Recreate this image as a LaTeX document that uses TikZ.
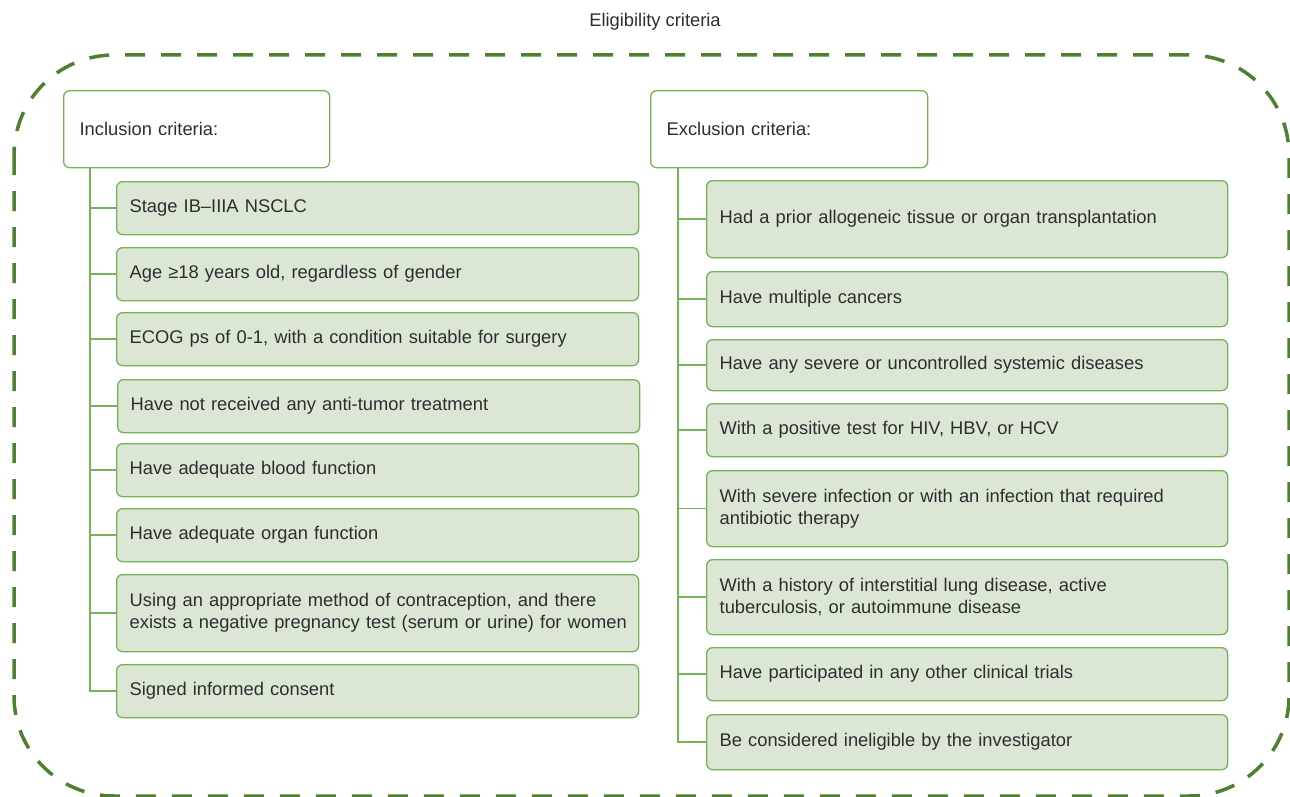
\documentclass[tikz,border=0pt]{standalone}
\usepackage{fontspec}
\setmainfont{Liberation Sans}
\definecolor{dashgreen}{HTML}{4E8030}
\definecolor{edgegreen}{HTML}{74B356}
\definecolor{boxfill}{HTML}{DBE6D5}
\definecolor{txt}{HTML}{2E2E2E}
\begin{document}
\begin{tikzpicture}[x=1bp,y=-1bp,
  every node/.style={font=\fontsize{18.4}{22}\selectfont, text=txt},
  header/.style={draw=edgegreen, line width=1.3bp, fill=white, rounded corners=6bp,
    anchor=north west, minimum height=77bp, align=left, inner xsep=16bp},
  item/.style={draw=edgegreen, line width=1.3bp, fill=boxfill, rounded corners=6bp,
    anchor=north west, align=left, inner xsep=13bp, inner ysep=0bp},
  lbox/.style={item, text width=496bp},
  rbox/.style={item, text width=495bp},
  conn/.style={draw=edgegreen, line width=1.6bp},
  frame/.style={draw=dashgreen, line width=3.5bp, dash pattern=on 20bp off 16bp, rounded corners=100bp}]
\clip (0,0) rectangle (1290,797);
\fill[white] (0,0) rectangle (1290,797);

% outer dashed frame and title
\draw[frame] (14,55) rectangle (1289,796);
\node (title) at (655,22) {Eligibility criteria};

% headers
\node[header, text width=234bp] (inc) at (63,90) {Inclusion criteria:};
\node[header, text width=245bp] (exc) at (650,90) {Exclusion criteria:};

% inclusion items
\node[lbox, minimum height=53bp] (i1) at (116,181) {Stage IB–IIIA NSCLC};
\node[lbox, minimum height=53bp] (i2) at (116,247) {Age ≥18 years old, regardless of gender};
\node[lbox, minimum height=53bp] (i3) at (116,312) {ECOG ps of 0-1, with a condition suitable for surgery};
\node[lbox, minimum height=53bp] (i4) at (117,379) {Have not received any anti-tumor treatment};
\node[lbox, minimum height=53bp] (i5) at (116,443) {Have adequate blood function};
\node[lbox, minimum height=53bp] (i6) at (116,508) {Have adequate organ function};
\node[lbox, minimum height=77bp] (i7) at (116,574) {\mbox{Using an appropriate method of contraception, and there}\\\mbox{exists a negative pregnancy test (serum or urine) for women}};
\node[lbox, minimum height=53bp] (i8) at (116,664) {Signed informed consent};

% exclusion items
\node[rbox, minimum height=77bp] (e1) at (706,180) {Had a prior allogeneic tissue or organ transplantation};
\node[rbox, minimum height=55bp] (e2) at (706,271) {Have multiple cancers};
\node[rbox, minimum height=51bp] (e3) at (706,339) {Have any severe or uncontrolled systemic diseases};
\node[rbox, minimum height=53bp] (e4) at (706,403) {With a positive test for HIV, HBV, or HCV};
\node[rbox, minimum height=76bp] (e5) at (706,470) {With severe infection or with an infection that required\\antibiotic therapy};
\node[rbox, minimum height=75bp] (e6) at (706,559) {With a history of interstitial lung disease, active\\tuberculosis, or autoimmune disease};
\node[rbox, minimum height=53bp] (e7) at (706,647) {Have participated in any other clinical trials};
\node[rbox, minimum height=55bp] (e8) at (706,714) {Be considered ineligible by the investigator};

% tree connectors
\coordinate (lt) at (90,167.5);
\coordinate (rt) at (678,167.5);
\draw[conn] (lt) |- (i8.west);
\foreach \n in {i1,i2,i3,i4,i5,i6,i7}
  \draw[conn] (\n.west) -- (\n.west -| lt);
\draw[conn] (rt) |- (e8.west);
\foreach \n in {e1,e2,e3,e4,e5,e6,e7}
  \draw[conn] (\n.west) -- (\n.west -| rt);
\end{tikzpicture}
\end{document}
